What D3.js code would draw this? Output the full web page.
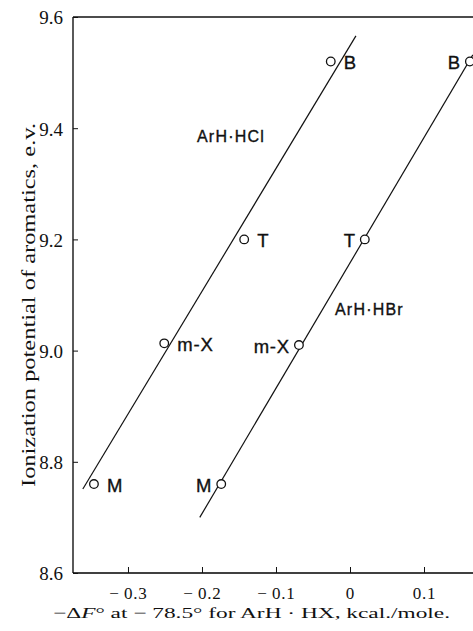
<!DOCTYPE html>
<html>
<head>
<meta charset="utf-8">
<script src="https://cdn.jsdelivr.net/npm/d3@7"></script>
<style>
  body { margin: 0; background: #fff; }
  svg { display: block; }
  .tick text { font-family: "Liberation Serif", "DejaVu Serif", serif; fill: #111; }
  .lbl { font-family: "Liberation Sans", Arial, sans-serif; fill: #111; stroke: #111; stroke-width: 0.35; }
</style>
</head>
<body>
<div id="chart"></div>
<script>
const W = 473, H = 631;

// aromatics
const hclNames = ["B", "T", "m-X", "M"];
const hclX = [-0.026, -0.143, -0.251, -0.346];
const hclY = [9.52, 9.20, 9.013, 8.76];

const hbrNames = ["B", "T", "m-X", "M"];
const hbrX = [0.162, 0.020, -0.069, -0.174];
const hbrY = [9.52, 9.20, 9.01, 8.76];

// fitted straight lines (end points)
const hclLine = [[-0.361, 8.751], [0.008, 9.566]];
const hbrLine = [[-0.203, 8.70], [0.166, 9.532]];

const xTicks = [-0.3, -0.2, -0.1, 0, 0.1];
const yTicks = [8.6, 8.8, 9.0, 9.2, 9.4, 9.6];

const svg = d3.select("#chart").append("svg")
  .attr("width", W)
  .attr("height", H);

const x = d3.scaleLinear().domain([-0.3743, 0.1662]).range([73, 473]);
const y = d3.scaleLinear().domain([8.6, 9.6]).range([573, 17]);

// axes with inward ticks
const xAxis = svg.append("g")
  .attr("transform", `translate(0,${y(8.6)})`)
  .call(d3.axisBottom(x).tickValues(xTicks).tickSize(-6).tickPadding(0)
    .tickFormat(d => d === 0 ? "0" : (d < 0 ? "\u2212\u2009" + d3.format(".1f")(-d) : d3.format(".1f")(d))));
xAxis.select(".domain").attr("d", `M${x.range()[0]},0H${x.range()[1]}`).attr("stroke-width", 1.3);
xAxis.selectAll(".tick text").attr("font-size", 17).attr("letter-spacing", 0.8)
  .attr("y", 26).attr("dy", null);

const yAxis = svg.append("g")
  .attr("transform", `translate(${x.range()[0]},0)`)
  .call(d3.axisLeft(y).tickValues(yTicks).tickSize(-5).tickPadding(10)
    .tickFormat(d3.format(".1f")));
yAxis.select(".domain").attr("d", `M0,${y(8.6)}V${y(9.6)}`).attr("stroke-width", 1.3);
yAxis.selectAll(".tick text").attr("font-size", 19).attr("dy", "0.36em");
svg.selectAll(".tick line").attr("stroke", "#111");

// top frame line
svg.append("line")
  .attr("x1", x.range()[0]).attr("x2", x.range()[1])
  .attr("y1", y(9.6)).attr("y2", y(9.6))
  .attr("stroke", "#111").attr("stroke-width", 1.3);

// axis titles
svg.append("text")
  .attr("x", 53).attr("y", 618)
  .attr("textLength", 397).attr("lengthAdjust", "spacingAndGlyphs")
  .attr("font-family", "Liberation Serif, serif")
  .attr("font-size", 15)
  .attr("fill", "#111")
  .html('\u2212\u0394<tspan font-style="italic">F</tspan>\u00b0 at \u2212 78.5\u00b0 for ArH \u00b7 HX, kcal./mole.');

svg.append("text")
  .attr("transform", "translate(35,305) rotate(-90)")
  .attr("text-anchor", "middle")
  .attr("textLength", 364).attr("lengthAdjust", "spacingAndGlyphs")
  .attr("font-family", "Liberation Serif, serif")
  .attr("font-size", 18.5)
  .attr("fill", "#111")
  .text("Ionization potential of aromatics, e.v.");

const line = d3.line().x(d => x(d[0])).y(d => y(d[1]));
[hclLine, hbrLine].forEach(l => {
  svg.append("path").attr("d", line(l))
    .attr("fill", "none").attr("stroke", "#111").attr("stroke-width", 1.2);
});

function drawSeries(names, xs, ys, side) {
  const pts = names.map((n, i) => ({ n, x: xs[i], y: ys[i] }));
  svg.append("g").selectAll("circle").data(pts).join("circle")
    .attr("cx", d => x(d.x)).attr("cy", d => y(d.y)).attr("r", 4.3)
    .attr("fill", "#fff").attr("stroke", "#111").attr("stroke-width", 1.3);
  svg.append("g").selectAll("text").data(pts).join("text")
    .attr("class", "lbl")
    .attr("x", d => x(d.x) + (side === "r" ? 13 : -9))
    .attr("y", d => y(d.y) + 8)
    .attr("text-anchor", side === "r" ? "start" : "end")
    .attr("font-size", 18.5)
    .attr("letter-spacing", 0.8)
    .text(d => d.n);
}
drawSeries(hclNames, hclX, hclY, "r");
drawSeries(hbrNames, hbrX, hbrY, "l");

// series labels
svg.append("text").attr("class", "lbl")
  .attr("x", 197).attr("y", 142)
  .attr("font-size", 16).attr("letter-spacing", 1.2)
  .text("ArH\u00b7HCl");
svg.append("text").attr("class", "lbl")
  .attr("x", 335).attr("y", 315)
  .attr("font-size", 16).attr("letter-spacing", 1.2)
  .text("ArH\u00b7HBr");
</script>
</body>
</html>
